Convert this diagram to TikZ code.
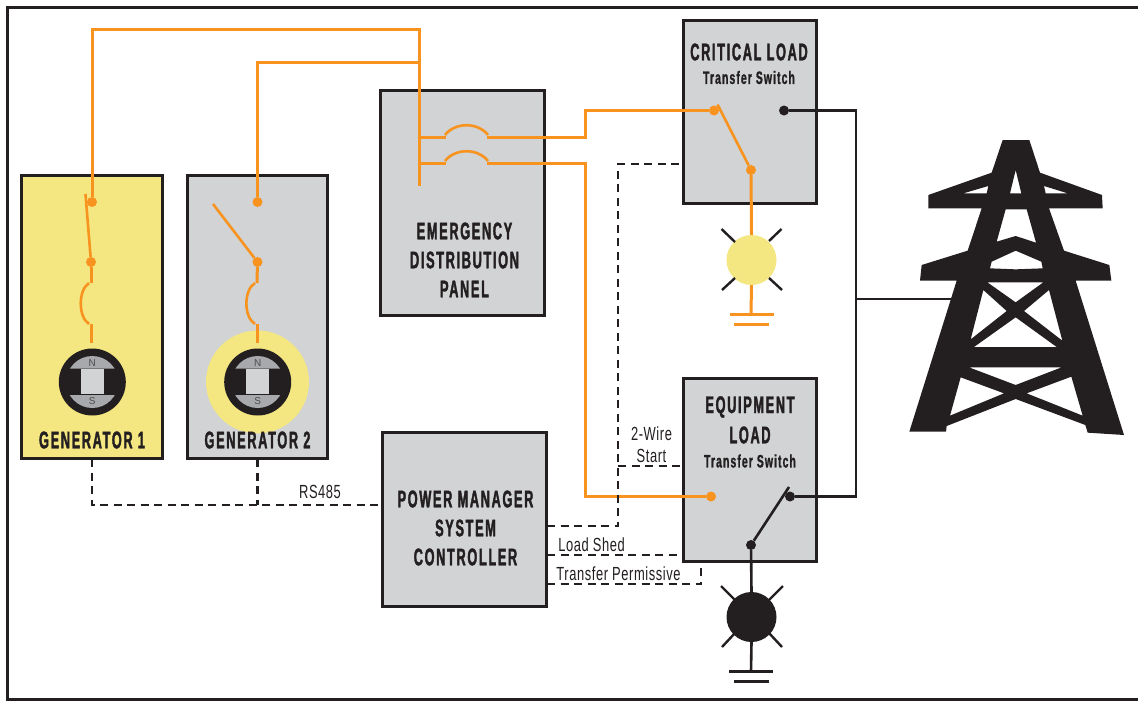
\documentclass[tikz,border=0pt]{standalone}
\usepackage{fontspec}
\setmainfont{Liberation Sans}
\newfontfamily\headf[FakeStretch=0.53,FakeBold=1.6,LetterSpace=7]{Liberation Sans Bold}
\newfontfamily\subf[FakeStretch=0.58,FakeBold=1.1,LetterSpace=6]{Liberation Sans Bold}
\newfontfamily\thinf[FakeStretch=0.68,LetterSpace=3]{Liberation Sans}
\definecolor{inkc}{HTML}{231F20}
\definecolor{orangec}{HTML}{F7931E}
\definecolor{greyc}{HTML}{D1D3D4}
\definecolor{yellowc}{HTML}{F4E681}
\definecolor{capc}{HTML}{A7A9AC}
\tikzset{
  x=1pt,y=-1pt,
  panelbox/.style={draw=inkc,line width=3pt,fill=greyc,inner sep=0pt,outer sep=0pt},
  head/.style={text=inkc,inner sep=0pt,font=\headf\fontsize{24}{24}\selectfont},
  subhead/.style={text=inkc,inner sep=0pt,font=\subf\fontsize{18}{18}\selectfont},
  lbl/.style={text=inkc,inner sep=0pt,font=\thinf\fontsize{19}{19}\selectfont},
  owire/.style={draw=orangec,line width=3pt,line join=miter},
  oarm/.style={draw=orangec,line width=2.6pt},
  kwire/.style={draw=inkc,line width=2.6pt,line join=miter},
  dwire/.style={draw=inkc,line width=2.4pt,dash pattern=on 8pt off 5.5pt},
  odot/.style={circle,fill=orangec,inner sep=0pt,minimum size=10pt},
  kdot/.style={circle,fill=inkc,inner sep=0pt,minimum size=10pt},
  lamp/.style={circle,inner sep=0pt,minimum size=50pt},
}
\newcommand{\genmag}[1]{%
  \fill[inkc] (#1,382) circle[radius=33.5];
  \begin{scope}
    \clip (#1-40,340) rectangle (#1+40,368.5) (#1-40,395) rectangle (#1+40,425);
    \fill[capc] (#1,382) circle[radius=26];
  \end{scope}
  \fill[greyc] (#1-11.5,369) rectangle (#1+11.5,394);
  \node[text=inkc!80,inner sep=0pt,font=\fontsize{10}{10}\selectfont] at (#1,363) {N};
  \node[text=inkc!80,inner sep=0pt,font=\fontsize{10}{10}\selectfont] at (#1,401) {S};
}
\begin{document}
\begin{tikzpicture}
\useasboundingbox[fill=white] (0,0) rectangle (1138,702);
% outer frame
\draw[inkc,line width=3pt] (1140,7) -- (7,7) -- (7,699) -- (1140,699);

% boxes
\node[panelbox,fill=yellowc,minimum width=141pt,minimum height=283pt] (gen1) at (92,317) {};
\node[panelbox,minimum width=140pt,minimum height=283pt] (gen2) at (257.5,317) {};
\node[panelbox,minimum width=164pt,minimum height=225.5pt] (edp) at (462.5,203) {};
\node[panelbox,minimum width=164pt,minimum height=174.5pt] (pms) at (464.5,519.5) {};
\node[panelbox,minimum width=133pt,minimum height=183.5pt] (cts) at (750,112) {};
\node[panelbox,minimum width=133pt,minimum height=183.5pt] (ets) at (750,470) {};

% coordinates
\coordinate (t1) at (92,29);
\coordinate (tj) at (419,29);
\coordinate (t2) at (257.5,62);
\coordinate (tk) at (419,62);
\coordinate (bus) at (419,186);
\coordinate (b1) at (419,137);
\coordinate (b2) at (419,163);
\node[odot] (g1a) at (92,202) {};
\node[odot] (g1b) at (91,262) {};
\node[odot] (g2a) at (257.5,202) {};
\node[odot] (g2b) at (257.5,262) {};
\node[odot] (cin) at (714,110.5) {};
\node[odot] (cpiv) at (751,170) {};
\node[kdot] (cout) at (784,110.5) {};
\node[odot] (ein) at (711,496.5) {};
\node[kdot] (eout) at (790,496.5) {};
\node[kdot] (epiv) at (751,545) {};
\coordinate (rn) at (856,110.5);
\coordinate (rs) at (856,496.5);
\coordinate (rm) at (856,299);
\coordinate (twr) at (952,299);

% generator yellow halo and magnets
\fill[yellowc] (257.5,382) circle[radius=51.5];
\genmag{92.3}
\genmag{257.7}

% generator 1 & 2 feeds
\draw[owire] (g1a) -- (t1) -- (tj) -- (bus);
\draw[owire] (g2a) -- (t2) -- (tk);
\draw[oarm] (85.5,194) -- (g1b);
\draw[oarm] (213,204) -- (g2b);
\draw[owire] (g1b) -- (91,283);
\draw[oarm] (89,283) .. controls (78,290) and (78,317) .. (89,324);
\draw[owire] (91,324) -- (91,343);
\draw[owire] (g2b) -- (257,283);
\draw[oarm] (255,283) .. controls (243.5,290) and (243.5,317) .. (255,324);
\draw[owire] (257,324) -- (257,343);

% distribution panel breakers
\draw[owire] (b1) -- (446,137);
\draw[owire] (b2) -- (446,163);
\draw[oarm] (445,135) .. controls (455,122) and (478,122) .. (488,135);
\draw[oarm] (445,161) .. controls (455,148) and (478,148) .. (488,161);
\draw[owire] (487,137) -- (585,137) -- (585,110.5) -- (cin);
\draw[owire] (487,163) -- (585,163) -- (585,496.5) -- (ein);

% critical load switch
\draw[oarm] (717.5,104.5) -- (cpiv);
\node[lamp,fill=yellowc] (clamp) at (751.5,260) {};
\foreach \a/\b/\c/\d in {721.5/229/735/242, 781.5/229/769/241, 722/290/735/278, 782/290/769/278}
  \draw[inkc,line width=2.4pt] (\a,\b) -- (\c,\d);
\coordinate (cg) at (751,314);
\draw[owire] (cpiv) -- (clamp.north);
\draw[owire] (clamp.south) -- (cg);
\draw[owire] (730,314) -- (774,314);
\draw[owire] (734,324) -- (769,324);

% equipment load switch
\draw[kwire] (789,487) -- (epiv);
\node[lamp,fill=inkc] (elamp) at (751.5,617) {};
\foreach \a/\b/\c/\d in {721/586/735/600, 783/586/769/600, 722/647/735/633, 782/647/769/633}
  \draw[inkc,line width=2.4pt] (\a,\b) -- (\c,\d);
\coordinate (eg) at (751,671.5);
\draw[kwire] (epiv) -- (elamp.north);
\draw[kwire] (elamp.south) -- (eg);
\draw[kwire] (729,671.5) -- (773,671.5);
\draw[kwire] (734,681.5) -- (769,681.5);

% utility wiring
\draw[kwire] (cout) -- (rn) -- (rs) -- (eout);
\draw[kwire] (rm) -- (twr);

% control wiring
\coordinate (d1) at (92,505);
\coordinate (d2) at (257.5,505);
\coordinate (d3) at (381,505);
\draw[dwire] (92,459) -- (d1) -- (d3);
\draw[dwire] (257.5,459) -- (d2);
\draw[dwire] (547,526) -- (618,526) -- (618,164) -- (683,164);
\draw[dwire] (618,466) -- (683,466);
\draw[dwire] (547,555) -- (683,555);
\draw[dwire] (547,584) -- (701,584) -- (701,562);

% tower
\begin{scope}[shift={(900,130)},x=1pt/3,y=-1pt/3]
\fill[inkc,even odd rule]
  (308,30)--(388,30)--(420,128)--(606,195)--(608,235)--(447,235)--(492,362)--(628,405)--(634,452)--(527,452)--(672,915)--(563,908)--(556,885)--(347,807)--(140,888)--(138,905)--(28,905)--(170,452)--(60,452)--(65,405)--(203,362)--(245,235)--(85,235)--(85,195)--(275,128)--cycle
  (347,120)--(364,190)--(330,190)--cycle
  (265,168)--(260,190)--(190,190)--cycle
  (432,168)--(437,190)--(503,190)--cycle
  (317,238)--(380,238)--(408,338)--(347,318)--(290,335)--cycle
  (347,362)--(424,395)--(428,415)--(347,418)--(270,415)--(275,395)--cycle
  (262,457)--(430,457)--(347,517)--cycle
  (250,480)--(320,543)--(212,628)--cycle
  (447,480)--(372,543)--(487,632)--cycle
  (347,562)--(470,651)--(222,651)--cycle
  (207,712)--(485,712)--(347,765)--cycle
  (182,742)--(312,790)--(150,857)--cycle
  (514,740)--(380,790)--(548,857)--cycle;
\end{scope}

% texts
\node[head] (tg1) at (92,440) {GENERATOR 1};
\node[head] (tg2) at (257.5,440) {GENERATOR 2};
\node[head] (te1) at (464.5,231) {EMERGENCY};
\node[head] (te2) at (464.5,260) {DISTRIBUTION};
\node[head] (te3) at (464.5,289) {PANEL};
\node[head] (tp1) at (465.5,499) {POWER MANAGER};
\node[head] (tp2) at (465.5,528) {SYSTEM};
\node[head] (tp3) at (465.5,557) {CONTROLLER};
\node[head] (tc1) at (749,52) {CRITICAL LOAD};
\node[subhead] (tc2) at (749,77.5) {Transfer Switch};
\node[head] (tq1) at (750,407) {EQUIPMENT};
\node[head] (tq2) at (750,435) {LOAD};
\node[subhead] (tq3) at (750,461) {Transfer Switch};
\node[lbl] (l1) at (320,492) {RS485};
\node[lbl] (l2) at (651.5,434) {2-Wire};
\node[lbl] (l3) at (651.5,456) {Start};
\node[lbl] (l4) at (591.5,545) {Load Shed};
\node[lbl] (l5) at (618.5,574) {Transfer Permissive};
\end{tikzpicture}
\end{document}
